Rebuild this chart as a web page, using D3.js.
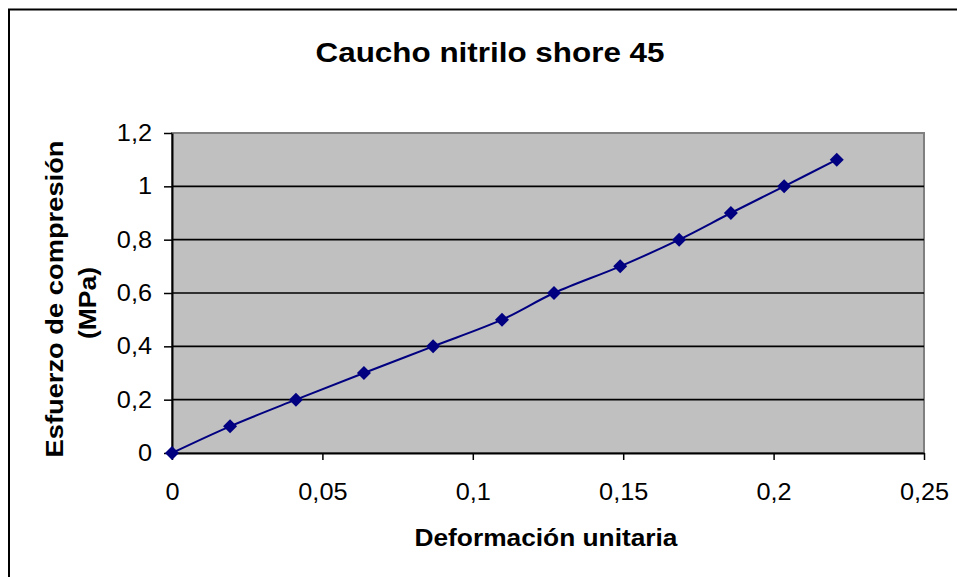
<!DOCTYPE html>
<meta charset="utf-8">
<script src="https://d3js.org/d3.v7.min.js"></script>
<style>
  body { margin: 0; background: #fff; }
  text { font-family: "Liberation Sans", Arial, sans-serif; }
</style>
<svg id="chart" width="957" height="577"></svg>
<script>
// data
const strain = [0, 0.0193, 0.0412, 0.0638, 0.0868, 0.1097, 0.127, 0.149, 0.1686, 0.1858, 0.2035, 0.221];
const stress = [0, 0.1, 0.2, 0.3, 0.4, 0.5, 0.6, 0.7, 0.8, 0.9, 1.0, 1.1];
const xTicks = [0, 0.05, 0.1, 0.15, 0.2, 0.25];
const yTicks = [0, 0.2, 0.4, 0.6, 0.8, 1, 1.2];

const svg = d3.select("#chart");
const plot = {left: 172, top: 133, right: 924, bottom: 453};

const x = d3.scaleLinear().domain([0, 0.25]).range([plot.left, plot.right]);
const y = d3.scaleLinear().domain([0, 1.2]).range([plot.bottom, plot.top]);
const fmt = d => String(d).replace(".", ",");

// the original text is a bit wider than Liberation Sans, stretch it
function widen(sel, k) {
  sel.each(function() {
    const w = this.getComputedTextLength();
    d3.select(this).attr("textLength", w * k).attr("lengthAdjust", "spacingAndGlyphs");
  });
}

// outer chart border (runs off the bottom/right of the picture)
svg.append("rect")
  .attr("x", 9).attr("y", 9.5)
  .attr("width", 1200).attr("height", 1200)
  .attr("fill", "none").attr("stroke", "#000").attr("stroke-width", 2);

// plot area
svg.append("rect")
  .attr("x", plot.left).attr("y", plot.top)
  .attr("width", plot.right - plot.left).attr("height", plot.bottom - plot.top)
  .attr("fill", "#c0c0c0").attr("stroke", "#808080").attr("stroke-width", 2);

// gridlines
svg.append("g")
  .selectAll("line")
  .data(yTicks.filter(d => d > 0 && d < 1.2))
  .join("line")
    .attr("x1", plot.left).attr("x2", plot.right)
    .attr("y1", d => y(d)).attr("y2", d => y(d))
    .attr("stroke", "#000").attr("stroke-width", 1.6);

// axes
const yAxis = svg.append("g")
  .attr("transform", `translate(${plot.left},0)`)
  .call(d3.axisLeft(y).tickValues(yTicks).tickFormat(fmt).tickSize(8).tickSizeOuter(0).tickPadding(12));
const xAxis = svg.append("g")
  .attr("transform", `translate(0,${plot.bottom})`)
  .call(d3.axisBottom(x).tickValues(xTicks).tickFormat(fmt).tickSize(7).tickSizeOuter(0).tickPadding(24));

[xAxis, yAxis].forEach(g => {
  g.select(".domain").attr("stroke", "#000").attr("stroke-width", 2);
  g.selectAll(".tick line").attr("stroke", "#000").attr("stroke-width", 1.5);
  g.selectAll(".tick text")
    .attr("fill", "#000")
    .style("font-family", "'Liberation Sans', Arial, sans-serif")
    .style("font-size", "23px")
    .call(widen, 1.1);
});

// smoothed series line
const pts = strain.map((d, i) => [d, stress[i]]);
svg.append("path")
  .datum(pts)
  .attr("fill", "none")
  .attr("stroke", "#000080")
  .attr("stroke-width", 2)
  .attr("d", d3.line().x(d => x(d[0])).y(d => y(d[1])).curve(d3.curveCatmullRom.alpha(0.5)));

// diamond markers
svg.append("g")
  .selectAll("path")
  .data(pts)
  .join("path")
    .attr("transform", d => `translate(${x(d[0])},${y(d[1])})`)
    .attr("d", "M0,-7L7,0L0,7L-7,0Z")
    .attr("fill", "#000080");

// titles
svg.append("text")
  .attr("x", 490).attr("y", 62)
  .attr("text-anchor", "middle")
  .style("font-size", "27px").style("font-weight", "bold")
  .text("Caucho nitrilo shore 45")
  .attr("textLength", 349).attr("lengthAdjust", "spacingAndGlyphs");

svg.append("text")
  .attr("x", 546).attr("y", 546)
  .attr("text-anchor", "middle")
  .style("font-size", "23px").style("font-weight", "bold")
  .text("Deformación unitaria")
  .attr("textLength", 263).attr("lengthAdjust", "spacingAndGlyphs");

const yt = svg.append("g").attr("transform", "translate(0,299) rotate(-90)");
yt.append("text")
  .attr("x", 0).attr("y", 63)
  .attr("text-anchor", "middle")
  .style("font-size", "23px").style("font-weight", "bold")
  .text("Esfuerzo de compresión")
  .attr("textLength", 317).attr("lengthAdjust", "spacingAndGlyphs");
yt.append("text")
  .attr("x", -4).attr("y", 96)
  .attr("text-anchor", "middle")
  .style("font-size", "23px").style("font-weight", "bold")
  .text("(MPa)")
  .call(widen, 1.15);
</script>
